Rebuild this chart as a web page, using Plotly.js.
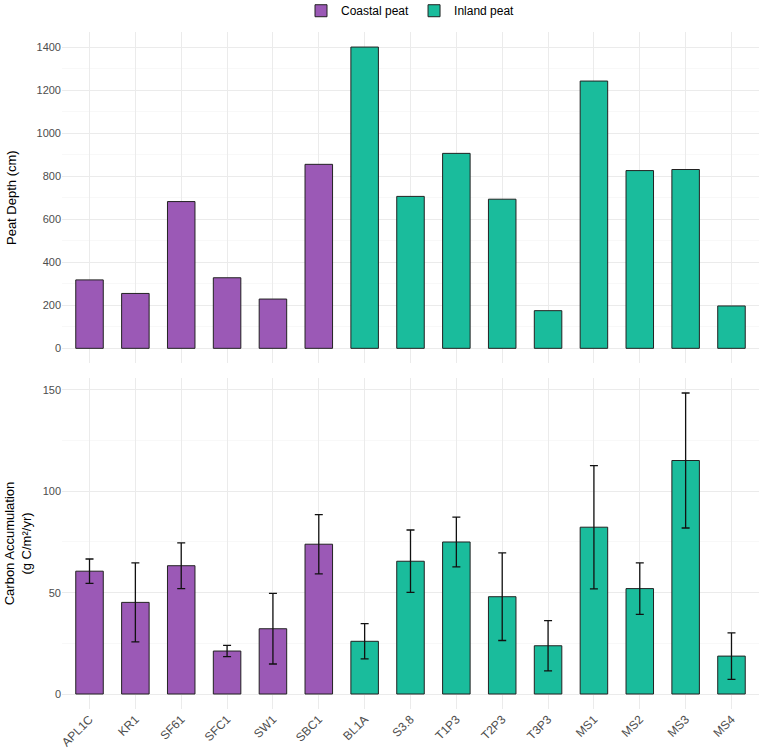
<!DOCTYPE html>
<html>
<head>
<meta charset="utf-8">
<script src="https://cdn.plot.ly/plotly-3.0.1.min.js"></script>
<style>
  html, body { margin: 0; padding: 0; background: #ffffff; }
  #chart { width: 761px; height: 752px; }
</style>
</head>
<body>
<div id="chart"></div>
<script>
// Sites in plotting order, split by peat type
const sites = ["APL1C", "KR1", "SF61", "SFC1", "SW1", "SBC1", "BL1A", "S3.8", "T1P3", "T2P3", "T3P3", "MS1", "MS2", "MS3", "MS4"];
const coastalSites = ["APL1C", "KR1", "SF61", "SFC1", "SW1", "SBC1"];
const inlandSites = ["BL1A", "S3.8", "T1P3", "T2P3", "T3P3", "MS1", "MS2", "MS3", "MS4"];

// Peat depth (cm)
const coastalDepth = [318, 255, 682, 328, 229, 855];
const inlandDepth = [1400, 706, 906, 693, 175, 1242, 826, 831, 197];

// Carbon accumulation (g C/m²/yr) with error (±)
const coastalCarbon = [60.6, 45.2, 63.3, 21.2, 32.2, 73.9];
const coastalCarbonErr = [6.0, 19.5, 11.3, 2.8, 17.4, 14.6];
const inlandCarbon = [26.0, 65.5, 75.0, 48.0, 23.8, 82.3, 52.0, 115.2, 18.7];
const inlandCarbonErr = [8.7, 15.4, 12.3, 21.6, 12.4, 30.4, 12.7, 33.3, 11.5];

const yTicksDepth = [0, 200, 400, 600, 800, 1000, 1200, 1400];
const yTicksCarbon = [0, 50, 100, 150];

const coastalColor = "#9B59B6";
const inlandColor = "#1ABC9C";
const outline = { color: "#222222", width: 1 };
const errStyle = { color: "#111111", thickness: 1.3, width: 4 };

const font = "Liberation Sans, Arial, Helvetica, sans-serif";
const tickFont = { family: font, size: 11, color: "#4D4D4D" };
const grid = "#EBEBEB";
const minorGrid = "#F4F4F4";

const traces = [
  {
    type: "bar", name: "Coastal peat", legendgroup: "c",
    x: coastalSites, y: coastalDepth, xaxis: "x2", yaxis: "y2",
    width: 0.6, marker: { color: coastalColor, line: outline }
  },
  {
    type: "bar", name: "Inland peat", legendgroup: "i",
    x: inlandSites, y: inlandDepth, xaxis: "x2", yaxis: "y2",
    width: 0.6, marker: { color: inlandColor, line: outline }
  },
  {
    type: "bar", name: "Coastal peat", legendgroup: "c", showlegend: false,
    x: coastalSites, y: coastalCarbon, xaxis: "x", yaxis: "y",
    width: 0.6, marker: { color: coastalColor, line: outline },
    error_y: Object.assign({ type: "data", array: coastalCarbonErr, visible: true }, errStyle)
  },
  {
    type: "bar", name: "Inland peat", legendgroup: "i", showlegend: false,
    x: inlandSites, y: inlandCarbon, xaxis: "x", yaxis: "y",
    width: 0.6, marker: { color: inlandColor, line: outline },
    error_y: Object.assign({ type: "data", array: inlandCarbonErr, visible: true }, errStyle)
  }
];

const xCommon = {
  type: "category", categoryorder: "array", categoryarray: sites,
  range: [-0.6, 14.6], showgrid: true, gridcolor: grid, gridwidth: 1,
  zeroline: false, showline: false, ticks: "", automargin: false,
  tickfont: { family: font, size: 12, color: "#4D4D4D" }
};

const layout = {
  width: 761, height: 752,
  paper_bgcolor: "#ffffff", plot_bgcolor: "#ffffff",
  margin: { l: 62, r: 2, t: 32, b: 43, autoexpand: false },
  barmode: "overlay",
  font: { family: font, color: "#000000" },
  showlegend: true,
  legend: {
    orientation: "h", x: 0.5, xanchor: "center", y: 1.01, yanchor: "bottom",
    font: { family: font, size: 12, color: "#000000" },
    itemwidth: 30, tracegroupgap: 0
  },
  xaxis: Object.assign({}, xCommon, {
    anchor: "y", domain: [0, 1], tickangle: -45, showticklabels: true
  }),
  xaxis2: Object.assign({}, xCommon, {
    anchor: "y2", domain: [0, 1], showticklabels: false
  }),
  yaxis: {
    domain: [0, 0.4889], range: [-7.4, 155.9],
    tickvals: yTicksCarbon, ticktext: yTicksCarbon.map(String),
    showgrid: true, gridcolor: grid, gridwidth: 1, zeroline: false,
    ticks: "", tickfont: tickFont, automargin: false,
    minor: { tickvals: [25, 75, 125], showgrid: true, gridcolor: minorGrid, gridwidth: 0.6, ticks: "" },
    title: { text: "Carbon Accumulation<br>(g C/m²/yr)", font: { family: font, size: 13, color: "#000000" }, standoff: 8 }
  },
  yaxis2: {
    domain: [0.5105, 1], range: [-70, 1470],
    tickvals: yTicksDepth, ticktext: yTicksDepth.map(String),
    showgrid: true, gridcolor: grid, gridwidth: 1, zeroline: false,
    ticks: "", tickfont: tickFont, automargin: false,
    minor: { tickvals: [100, 300, 500, 700, 900, 1100, 1300], showgrid: true, gridcolor: minorGrid, gridwidth: 0.6, ticks: "" },
    title: { text: "Peat Depth (cm)", font: { family: font, size: 13, color: "#000000" }, standoff: 16 }
  }
};

Plotly.newPlot("chart", traces, layout, { displayModeBar: false, staticPlot: true });
</script>
</body>
</html>
